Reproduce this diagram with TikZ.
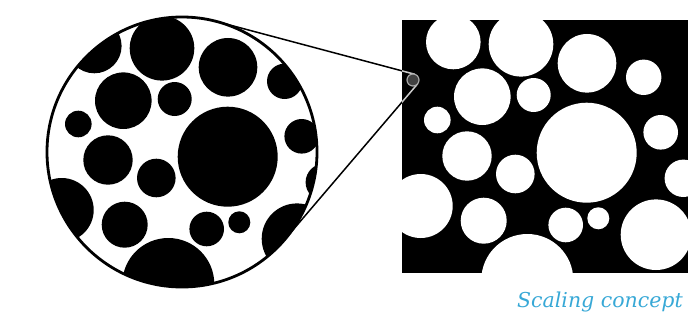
\documentclass[tikz,border=0pt]{standalone}
\usepackage{fontspec}
\newfontfamily\capfont{DejaVu Serif}
\usetikzlibrary{calc}
\definecolor{capblue}{RGB}{55,168,214}
\newcommand{\bubblelist}{453.3/280/27.3, 521/277.7/32.3, 587/258.7/29.3, 643.7/244.7/17.7,
  482.3/225.3/28.3, 533.7/227/17, 437.3/202/13.3, 586.7/169.3/50, 660.7/189.7/17.3,
  467/166/24.7, 515.3/148/19.3, 683.3/143.7/18.7, 420.7/116/32, 483.7/101.3/23,
  527.3/42/46, 565.7/97/17.3, 598.3/103.7/11, 656/87.3/35.3}

\begin{document}
\begin{tikzpicture}[x=1pt, y=1pt,
  lensline/.style={line width=1.5pt, line cap=round},
  caption/.style={font=\capfont\itshape\fontsize{20.5}{24}\selectfont, text=capblue}]
  \useasboundingbox (0,0) rectangle (698,322);
  \coordinate (lens) at (182,170);
  \coordinate (spot) at (413,242);
  \coordinate (lensA) at ($(lens)+(75.1:135)$);
  \coordinate (lensB) at ($(lens)+(-40.5:135)$);
  \coordinate (spotA) at ($(spot)+(75.1:6)$);
  \coordinate (spotB) at ($(spot)+(-40.5:6)$);
  \fill[black] (402,49) rectangle (688,302);
  \begin{scope}
    \clip (402,49) rectangle (688,302);
    \foreach \x/\y/\r in \bubblelist
      \fill[white] (\x,\y) circle (\r);
  \end{scope}
  \begin{scope}
    \clip (lens) circle (135);
    \begin{scope}[shift={(-359,-4)}]
      \foreach \x/\y/\r in \bubblelist
        \fill[black] (\x,\y) circle (\r);
    \end{scope}
  \end{scope}
  \draw[line width=2.8pt] (lens) circle (135);
  \draw[lensline] (lensA) -- (spotA);
  \draw[lensline] (lensB) -- (spotB);
  \begin{scope}
    \clip (402,49) rectangle (688,302);
    \draw[lensline, black!20] (lensA) -- (spotA);
    \draw[lensline, black!20] (lensB) -- (spotB);
  \end{scope}
  \draw[line width=1.2pt, black!35, fill=black!75] (spot) circle (6);
  \node[caption] (title) at (600,20) {Scaling concept};
\end{tikzpicture}
\end{document}
